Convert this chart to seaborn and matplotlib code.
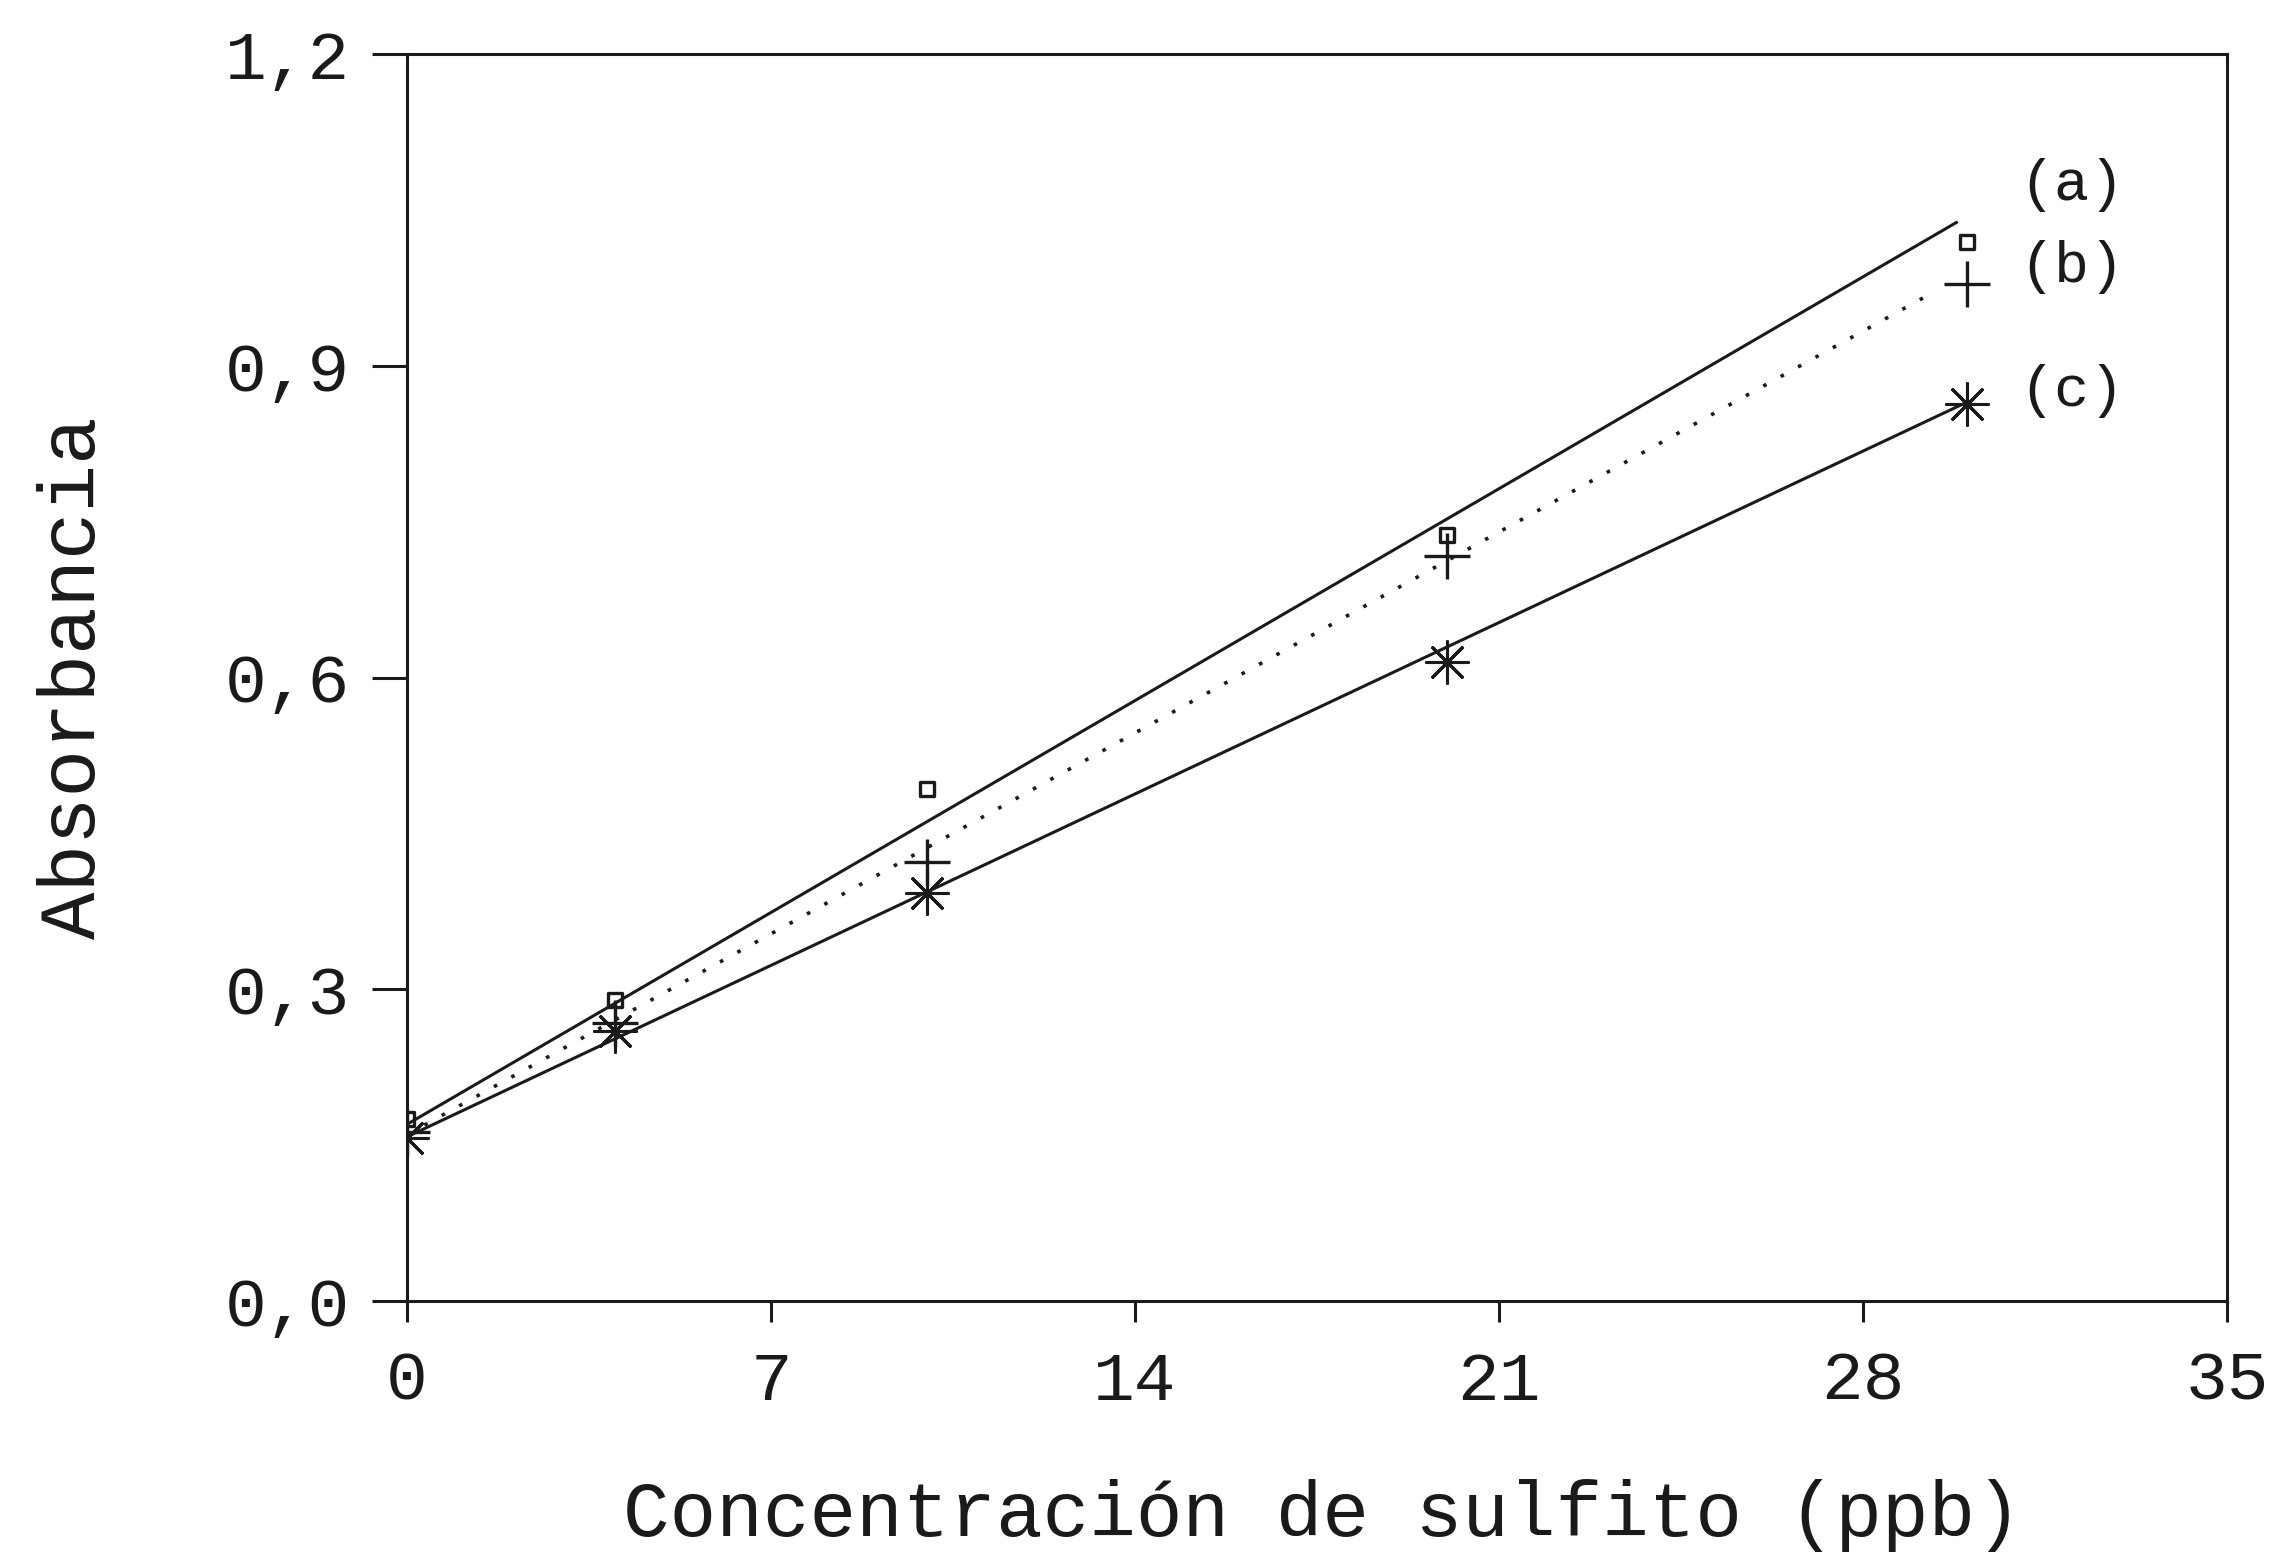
import matplotlib
matplotlib.use("Agg")
import matplotlib.pyplot as plt
import seaborn as sns

# ---- data ----
conc = [0, 4, 10, 20, 30]
abs_a = [0.175, 0.290, 0.493, 0.737, 1.019]
abs_b = [0.163, 0.268, 0.422, 0.717, 0.979]
abs_c = [0.157, 0.260, 0.393, 0.615, 0.863]

fit_x_a = [0, 29.8]
fit_a = [0.170, 1.038]
fit_x_b = [0, 29.4]
fit_b = [0.160, 0.972]
fit_x_c = [0, 30.0]
fit_c = [0.158, 0.865]

series_labels = ["(a)", "(b)", "(c)"]
label_y = [1.074, 0.995, 0.876]

x_ticks = [0, 7, 14, 21, 28, 35]
y_ticks = [0.0, 0.3, 0.6, 0.9, 1.2]
y_tick_labels = ["0,0", "0,3", "0,6", "0,9", "1,2"]

sns.set_theme(style="white")
plt.rcParams["font.family"] = ["Liberation Mono", "DejaVu Sans Mono"]

ink = "#1a1a1a"
fig, ax = plt.subplots(figsize=(22.79, 15.60), dpi=100)
fig.subplots_adjust(left=407/2279, right=2227/2279, bottom=1-1301/1560, top=1-54/1560)

# fitted lines
sns.lineplot(x=fit_x_a, y=fit_a, ax=ax, color=ink, lw=2.2, linestyle="-")
sns.lineplot(x=fit_x_b, y=fit_b, ax=ax, color=ink, lw=2.6, linestyle=(0, (1, 4.5)))
sns.lineplot(x=fit_x_c, y=fit_c, ax=ax, color=ink, lw=2.2, linestyle="-")

# markers
sns.scatterplot(x=conc, y=abs_a, ax=ax, marker="s", s=100, facecolors="none",
                edgecolor=ink, linewidth=2.4, zorder=5)
sns.scatterplot(x=conc, y=abs_b, ax=ax, marker="+", s=1100, color=ink,
                linewidth=2.4, zorder=5)
sns.scatterplot(x=conc, y=abs_c, ax=ax, marker=(8, 2, 0), s=900, color=ink,
                linewidth=2.2, zorder=5)

for lab, yy in zip(series_labels, label_y):
    ax.text(31.0, yy, lab, fontsize=42, color=ink, ha="left", va="center")

ax.set_xlim(0, 35)
ax.set_ylim(0, 1.2)
ax.set_xticks(x_ticks)
ax.set_xticklabels([str(v) for v in x_ticks])
ax.set_yticks(y_ticks)
ax.set_yticklabels(y_tick_labels)

for sp in ax.spines.values():
    sp.set_visible(True)
    sp.set_color(ink)
    sp.set_linewidth(2.2)

ax.tick_params(axis="x", direction="out", length=15, width=2.2, pad=20,
               labelsize=50, colors=ink, bottom=True)
ax.tick_params(axis="y", direction="out", length=25, width=2.2, pad=16,
               labelsize=50, colors=ink, left=True)

ax.set_xlabel("Concentración de sulfito (ppb)", fontsize=56, color=ink)
ax.set_ylabel("Absorbancia", fontsize=57, color=ink)
ax.xaxis.set_label_coords(0.503, -0.143)
ax.yaxis.set_label_coords(-0.162, 0.5)

fig.savefig("out.png", dpi=100, facecolor="white")
